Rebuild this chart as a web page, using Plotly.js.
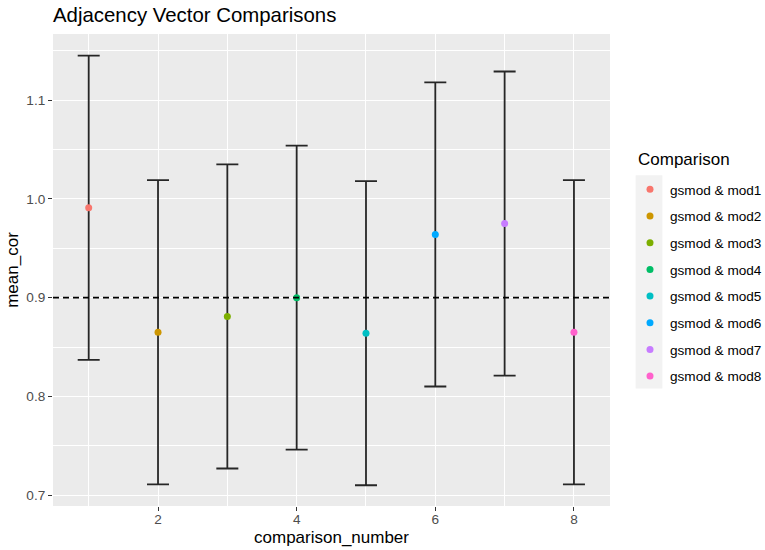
<!DOCTYPE html>
<html>
<head>
<meta charset="utf-8">
<script src="https://cdn.plot.ly/plotly-3.0.1.min.js"></script>
<style>html,body{margin:0;padding:0;background:#fff;}#chart{width:765px;height:550px;}</style>
</head>
<body>
<div id="chart"></div>
<script>
const comparisonNumber = [1, 2, 3, 4, 5, 6, 7, 8];
const comparisonLabels = ["gsmod & mod1", "gsmod & mod2", "gsmod & mod3", "gsmod & mod4",
                          "gsmod & mod5", "gsmod & mod6", "gsmod & mod7", "gsmod & mod8"];
const meanCor = [0.991, 0.865, 0.881, 0.900, 0.864, 0.964, 0.975, 0.865];
const errCor  = [0.154, 0.154, 0.154, 0.154, 0.154, 0.154, 0.154, 0.154];
const colors = ["#F8766D", "#CD9600", "#7CAE00", "#00BE67", "#00BFC4", "#00A9FF", "#C77CFF", "#FF61CC"];
const refLine = 0.9;
const legendTitle = "Comparison";

const FONT = "Liberation Sans, Arial, Helvetica, sans-serif";

const traces = comparisonNumber.map((n, i) => ({
  type: "scatter",
  mode: "markers",
  x: [n],
  y: [meanCor[i]],
  name: comparisonLabels[i],
  legendgroup: "g" + i,
  marker: {color: colors[i], size: 7},
  error_y: {type: "data", symmetric: true, array: [errCor[i]], color: "#262626", thickness: 1.8, width: 11},
  hoverinfo: "x+y"
}));

const layout = {
  width: 765, height: 550,
  margin: {l: 53, r: 155, t: 34, b: 44},
  paper_bgcolor: "#ffffff",
  plot_bgcolor: "#EBEBEB",
  font: {family: FONT, color: "#000"},
  title: {text: "Adjacency Vector Comparisons", font: {size: 20.4, color: "#000", family: FONT},
          x: 0, xref: "paper", xanchor: "left", y: 1 - 15/550, yref: "container", yanchor: "middle"},
  xaxis: {
    range: [0.485, 8.52], tickvals: [2, 4, 6, 8], ticktext: ["2", "4", "6", "8"],
    showgrid: true, gridcolor: "#ffffff", gridwidth: 1.4, zeroline: false, showline: false,
    ticks: "outside", ticklen: 4, tickwidth: 1.2, tickcolor: "#333333", ticklabelstandoff: -3,
    tickfont: {size: 13.6, color: "#4D4D4D"},
    minor: {tickvals: [1, 3, 5, 7], showgrid: true, gridcolor: "#ffffff", gridwidth: 0.7, ticks: ""},
    title: {text: "comparison_number", font: {size: 17, color: "#000"}, standoff: 4}
  },
  yaxis: {
    range: [0.689, 1.167], tickvals: [0.7, 0.8, 0.9, 1.0, 1.1], ticktext: ["0.7", "0.8", "0.9", "1.0", "1.1"],
    showgrid: true, gridcolor: "#ffffff", gridwidth: 1.4, zeroline: false, showline: false,
    ticks: "outside", ticklen: 4, tickwidth: 1.2, tickcolor: "#333333",
    tickfont: {size: 13.6, color: "#4D4D4D"},
    minor: {tickvals: [0.75, 0.85, 0.95, 1.05, 1.15], showgrid: true, gridcolor: "#ffffff", gridwidth: 0.7, ticks: ""},
    title: {text: "mean_cor", font: {size: 17, color: "#000"}, standoff: 3}
  },
  showlegend: true,
  legend: {
    xref: "container", yref: "container",
    x: 630/765, xanchor: "left", y: 1 - 174/550, yanchor: "top",
    bgcolor: "rgba(0,0,0,0)", borderwidth: 0,
    font: {size: 13.6, color: "#000"},
    tracegroupgap: 6, itemclick: false
  },
  annotations: [
    {text: legendTitle, xref: "paper", yref: "paper", x: (636 - 53) / 557, y: (506 - 160) / 472,
     xanchor: "left", yanchor: "middle", showarrow: false, font: {size: 17, color: "#000"}}
  ],
  shapes: [
    {type: "rect", xref: "paper", yref: "paper", x0: 1.046, x1: 1.094, y0: 0.249, y1: 0.701,
     fillcolor: "#F2F2F2", line: {width: 0}, layer: "below"},
    {type: "line", xref: "paper", yref: "y", x0: 0, x1: 1, y0: refLine, y1: refLine,
     line: {color: "#000", width: 1.6, dash: "6px,4px"}}
  ]
};

Plotly.newPlot("chart", traces, layout, {displayModeBar: false});
</script>
</body>
</html>
